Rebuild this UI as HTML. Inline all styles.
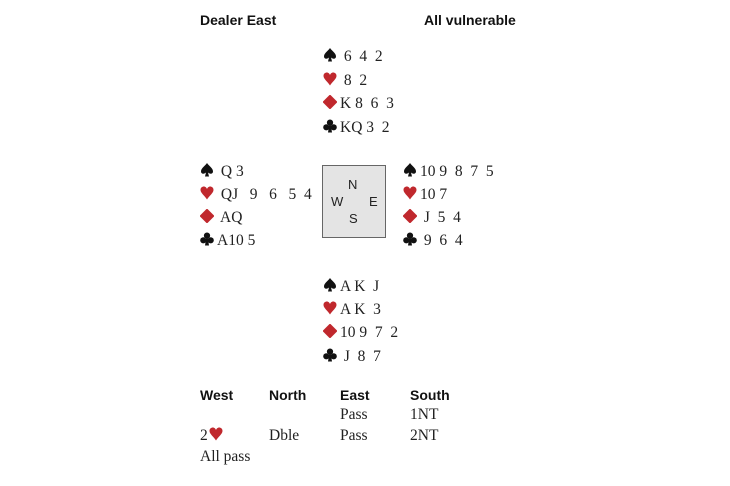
<!DOCTYPE html>
<html><head><meta charset="utf-8"><style>
body{margin:0;width:730px;height:486px;background:#fff;position:relative;font-family:"Liberation Serif",serif;color:#222;overflow:hidden}
.t{position:absolute;font-size:15.5px;line-height:18px;white-space:pre}
.h{position:absolute;font-family:"Liberation Sans",sans-serif;font-weight:bold;font-size:14px;line-height:18px;color:#111}
svg.s{display:inline-block;width:14px;height:14px;vertical-align:-1px;margin-right:3px}
#box{position:absolute;left:322px;top:165px;width:62px;height:71px;background:#e4e4e4;border:1.5px solid #666}
.c{position:absolute;font-family:"Liberation Sans",sans-serif;font-size:13px;color:#222}
</style></head><body>
<svg width="0" height="0" style="position:absolute">
<defs>
<symbol id="sp" viewBox="0 0 14 14"><path d="M7 0 C9 3 13 5 13 8.5 C13 11 10 11.5 8 9.5 L9 13.5 L5 13.5 L6 9.5 C4 11.5 1 11 1 8.5 C1 5 5 3 7 0Z" fill="#111"/></symbol>
<symbol id="he" viewBox="0 0 14 14"><path d="M7 13.5 C5 10 0.5 7 0.5 4 C0.5 1.5 2.3 0.5 3.8 0.5 C5.5 0.5 6.5 1.8 7 3 C7.5 1.8 8.5 0.5 10.2 0.5 C11.7 0.5 13.5 1.5 13.5 4 C13.5 7 9 10 7 13.5Z" fill="#c0282d"/></symbol>
<symbol id="di" viewBox="0 0 14 14"><path d="M7 -0.5 L14.5 7 L7 14.5 L-0.5 7Z" fill="#c0282d"/></symbol>
<symbol id="cl" viewBox="0 0 14 14"><g fill="#111"><circle cx="7" cy="3.6" r="3.1"/><circle cx="3.3" cy="8.3" r="3.1"/><circle cx="10.7" cy="8.3" r="3.1"/><path d="M6.2 6 L7.8 6 L9 13.5 L5 13.5Z"/></g></symbol>
</defs></svg>
<div class="h" style="left:200px;top:11px">Dealer East</div>
<div class="h" style="left:424px;top:11px">All vulnerable</div>

<div class="t" style="left:323px;top:48px"><svg class="s"><use href="#sp"/></svg> 6  4  2</div>
<div class="t" style="left:323px;top:72px"><svg class="s"><use href="#he"/></svg> 8  2</div>
<div class="t" style="left:323px;top:95px"><svg class="s"><use href="#di"/></svg>K 8  6  3</div>
<div class="t" style="left:323px;top:119px"><svg class="s"><use href="#cl"/></svg>KQ 3  2</div>

<div class="t" style="left:200px;top:163px"><svg class="s"><use href="#sp"/></svg> Q 3</div>
<div class="t" style="left:200px;top:186px"><svg class="s"><use href="#he"/></svg> QJ   9   6   5  4</div>
<div class="t" style="left:200px;top:209px"><svg class="s"><use href="#di"/></svg> AQ</div>
<div class="t" style="left:200px;top:232px"><svg class="s"><use href="#cl"/></svg>A10 5</div>

<div id="box"></div>
<div class="c" style="left:348px;top:177px">N</div>
<div class="c" style="left:331px;top:194px">W</div>
<div class="c" style="left:369px;top:194px">E</div>
<div class="c" style="left:349px;top:211px">S</div>

<div class="t" style="left:403px;top:163px"><svg class="s"><use href="#sp"/></svg>10 9  8  7  5</div>
<div class="t" style="left:403px;top:186px"><svg class="s"><use href="#he"/></svg>10 7</div>
<div class="t" style="left:403px;top:209px"><svg class="s"><use href="#di"/></svg> J  5  4</div>
<div class="t" style="left:403px;top:232px"><svg class="s"><use href="#cl"/></svg> 9  6  4</div>

<div class="t" style="left:323px;top:278px"><svg class="s"><use href="#sp"/></svg>A K  J</div>
<div class="t" style="left:323px;top:301px"><svg class="s"><use href="#he"/></svg>A K  3</div>
<div class="t" style="left:323px;top:324px"><svg class="s"><use href="#di"/></svg>10 9  7  2</div>
<div class="t" style="left:323px;top:348px"><svg class="s"><use href="#cl"/></svg> J  8  7</div>

<div class="h" style="left:200px;top:386px">West</div>
<div class="h" style="left:269px;top:386px">North</div>
<div class="h" style="left:340px;top:386px">East</div>
<div class="h" style="left:410px;top:386px">South</div>
<div class="t" style="left:340px;top:406px">Pass</div>
<div class="t" style="left:410px;top:406px">1NT</div>
<div class="t" style="left:200px;top:427px">2<svg class="s" style="margin-left:1px"><use href="#he"/></svg></div>
<div class="t" style="left:269px;top:427px">Dble</div>
<div class="t" style="left:340px;top:427px">Pass</div>
<div class="t" style="left:410px;top:427px">2NT</div>
<div class="t" style="left:200px;top:448px">All pass</div>
</body></html>
